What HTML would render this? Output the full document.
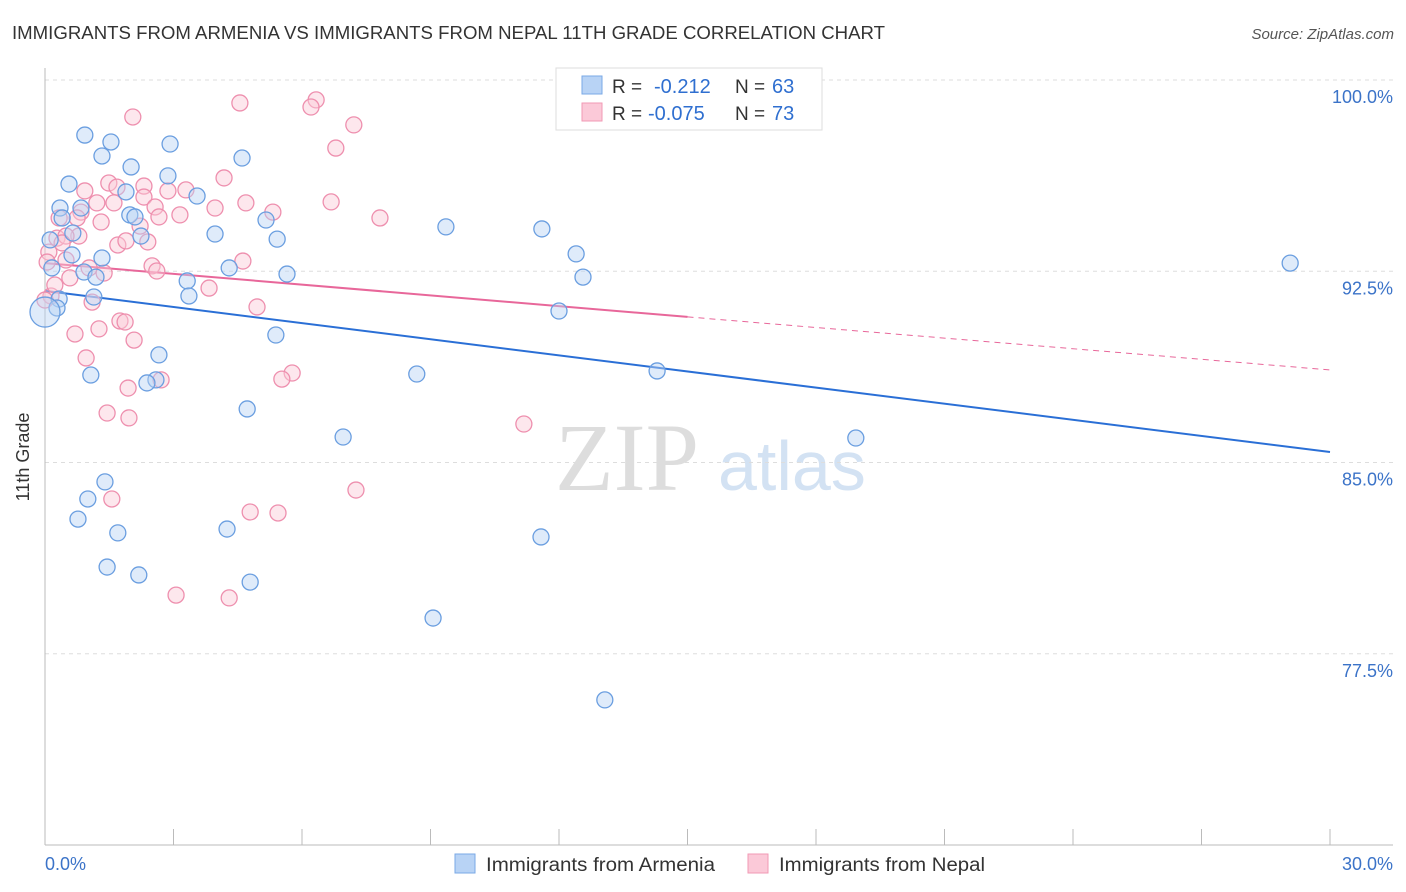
<!DOCTYPE html>
<html><head><meta charset="utf-8"><style>
body{margin:0;background:#fff;font-family:"Liberation Sans",sans-serif;}
svg{display:block}
</style></head><body>
<svg width="1406" height="892" viewBox="0 0 1406 892" xmlns="http://www.w3.org/2000/svg">
<text x="12" y="39" font-size="18" fill="#333" textLength="873" lengthAdjust="spacingAndGlyphs">IMMIGRANTS FROM ARMENIA VS IMMIGRANTS FROM NEPAL 11TH GRADE CORRELATION CHART</text>
<text x="1394" y="39" font-size="15" fill="#555" font-style="italic" text-anchor="end">Source: ZipAtlas.com</text>
<g><text x="555" y="490" font-size="96" fill="#ddd" font-family="Liberation Serif,serif">ZIP</text><text x="718" y="490" font-size="70" fill="#d3e2f3">atlas</text></g>
<g id="grid"></g>
<g id="axes"></g>
<g id="trend"></g>
<g id="pts"></g>
<text x="29" y="457" font-size="18" fill="#333" transform="rotate(-90 29 457)" text-anchor="middle">11th Grade</text>
<text x="45" y="870" font-size="18" fill="#3b73c8">0.0%</text>
<text x="1393" y="870" font-size="18" fill="#3b73c8" text-anchor="end">30.0%</text>
<g>
<rect x="556" y="68" width="266" height="62" fill="#fff" stroke="#ddd"/>
<rect x="582" y="76" width="20" height="18" fill="#b8d3f5" stroke="#7aa8e6"/>
<rect x="582" y="103" width="20" height="18" fill="#fbc9d8" stroke="#f199b4"/>
<text x="612" y="93" font-size="19" fill="#333">R =</text>
<text x="654" y="93" font-size="20" fill="#2f6fd0">-0.212</text>
<text x="735" y="93" font-size="19" fill="#333">N =</text>
<text x="772" y="93" font-size="20" fill="#2f6fd0">63</text>
<text x="612" y="120" font-size="19" fill="#333">R =</text>
<text x="648" y="120" font-size="20" fill="#2f6fd0">-0.075</text>
<text x="735" y="120" font-size="19" fill="#333">N =</text>
<text x="772" y="120" font-size="20" fill="#2f6fd0">73</text>
</g>
<g>
<rect x="455" y="854" width="20" height="19" fill="#b8d3f5" stroke="#7aa8e6"/>
<text x="486" y="871" font-size="19" fill="#333" textLength="229" lengthAdjust="spacingAndGlyphs">Immigrants from Armenia</text>
<rect x="748" y="854" width="20" height="19" fill="#fbc9d8" stroke="#f199b4"/>
<text x="779" y="871" font-size="19" fill="#333" textLength="206" lengthAdjust="spacingAndGlyphs">Immigrants from Nepal</text>
</g>
</svg>
<script>
const yTicks=[100,92.5,85,77.5];
const yTickLabels=["100.0%","92.5%","85.0%","77.5%"];
const xTicks=[0,3,6,9,12,15,18,21,24,27,30];
const armeniaX=[0.93,1.54,2.92,1.33,4.60,2.01,2.87,0.56,1.89,3.55,0.35,0.84,1.98,2.10,5.16,0.40,9.36,11.60,3.97,5.42,0.12,0.65,2.24,0.63,1.33,12.40,4.30,5.65,12.56,29.07,0.91,1.19,3.32,0.16,3.36,1.14,0.33,0.28,12.00,0.00,5.39,2.66,1.07,2.59,2.38,8.68,14.29,4.72,6.96,18.93,1.40,1.00,0.77,1.70,4.25,11.58,1.45,2.19,4.79,9.06,13.07];
const armeniaY=[97.84,97.57,97.49,97.02,96.94,96.59,96.24,95.92,95.61,95.45,94.98,94.98,94.71,94.63,94.51,94.59,94.24,94.16,93.96,93.76,93.73,94.00,93.88,93.14,93.02,93.18,92.63,92.39,92.27,92.82,92.47,92.27,92.12,92.63,91.53,91.49,91.41,91.06,90.94,90.90,90.00,89.22,88.43,88.24,88.12,88.47,88.59,87.10,86.00,85.96,84.24,83.57,82.78,82.24,82.39,82.08,80.90,80.59,80.31,78.90,75.69];
const nepalX=[2.05,4.55,6.33,6.21,7.21,6.79,4.18,1.49,0.93,1.68,2.31,3.29,2.87,2.31,1.21,1.61,2.57,4.69,6.68,0.84,0.33,3.97,2.66,3.15,5.32,7.82,0.75,1.31,2.22,0.28,0.79,0.49,0.40,1.70,2.40,1.89,0.09,0.49,1.03,2.50,4.62,2.61,1.38,0.58,0.05,1.10,0.14,3.83,4.95,1.75,1.87,1.26,0.70,2.08,0.96,5.77,5.53,1.94,2.71,1.45,1.96,11.18,7.26,1.56,4.79,5.44,3.06,4.30,0.23,0.00];
const nepalY=[98.55,99.10,99.22,98.94,98.24,97.33,96.16,95.96,95.65,95.80,95.84,95.69,95.65,95.41,95.18,95.18,95.02,95.18,95.22,94.82,94.59,94.98,94.63,94.71,94.82,94.59,94.59,94.43,94.27,93.80,93.88,93.88,93.61,93.53,93.65,93.69,93.25,92.94,92.63,92.71,92.90,92.51,92.43,92.24,92.86,91.29,91.53,91.84,91.10,90.55,90.51,90.24,90.04,89.80,89.10,88.51,88.27,87.92,88.24,86.94,86.75,86.51,83.92,83.57,83.06,83.02,79.80,79.69,91.96,91.37];
const armeniaTrend=[91.73,85.41];
const nepalTrend=[92.82,90.71,88.63];
const X0=45,X1=1330,Y0=80,PX=25.5;
const sx=v=>X0+(v/30)*(X1-X0);
const sy=v=>Y0+(100-v)*PX;
const NS="http://www.w3.org/2000/svg";
function mk(tag,attrs,parent){const e=document.createElementNS(NS,tag);for(const k in attrs)e.setAttribute(k,attrs[k]);document.getElementById(parent).appendChild(e);return e;}
yTicks.forEach((t,i)=>{
 const l=mk('line',{x1:45,x2:1393,y1:sy(t),y2:sy(t),stroke:'#ddd','stroke-dasharray':'4,4'},'grid');
 
 
 const tx=mk('text',{x:1393,y:sy(t)+23,'font-size':18,fill:'#3b73c8','text-anchor':'end'},'grid');
 tx.textContent=yTickLabels[i];
 
 
});
const ax=mk('line',{x1:45,x2:45,y1:68,y2:845,stroke:'#bbb'},'axes');


const bx=mk('line',{x1:45,x2:1393,y1:845,y2:845,stroke:'#bbb'},'axes');


xTicks.forEach(t=>{
 const l=mk('line',{x1:sx(t),x2:sx(t),y1:829,y2:845,stroke:'#bbb'},'axes');
 
 
});
function dot(x,y,fill,stroke,r,name){
 const c=mk('circle',{cx:sx(x),cy:sy(y),r:r,fill:fill,'fill-opacity':0.45,stroke:stroke,'stroke-width':1.3},'pts');
 
 
}
nepalX.forEach((x,i)=>dot(x,nepalY[i],'#fbc9d8','#ee8fae',8,'nepal-point'));
armeniaX.forEach((x,i)=>dot(x,armeniaY[i],'#b8d3f5','#6a9ee0',(x===0?15:8),'armenia-point'));
const bl=mk('line',{x1:sx(0),y1:sy(armeniaTrend[0]),x2:sx(30),y2:sy(armeniaTrend[1]),stroke:'#2a6fd6','stroke-width':2},'trend');


const pl=mk('line',{x1:sx(0),y1:sy(nepalTrend[0]),x2:sx(15),y2:sy(nepalTrend[1]),stroke:'#e8679a','stroke-width':2},'trend');


const pd=mk('line',{x1:sx(15),y1:sy(nepalTrend[1]),x2:sx(30),y2:sy(nepalTrend[2]),stroke:'#e8679a','stroke-width':1,'stroke-dasharray':'6,5'},'trend');


</script>
</body></html>
